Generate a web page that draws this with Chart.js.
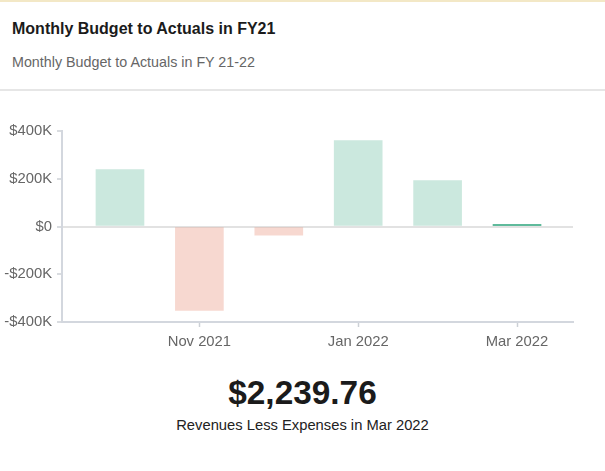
<!DOCTYPE html>
<html>
<head>
<meta charset="utf-8">
<script src="https://cdn.jsdelivr.net/npm/chart.js@4"></script>
<style>
  html, body { margin: 0; padding: 0; background: #fff; }
  body { width: 605px; height: 471px; position: relative; overflow: hidden;
         font-family: "Liberation Sans", Arial, sans-serif; }
  .topline { position: absolute; left: 0; top: 0; width: 605px; height: 2px; background: #f3e8c6; }
  .head { position: absolute; left: 0; top: 2px; width: 605px; height: 87px; border-bottom: 2px solid #e6e6e6; }
  .title { position: absolute; left: 12px; top: 18px; font-size: 16px; font-weight: bold; color: #1b1b1b; }
  .sub { position: absolute; left: 12px; top: 52px; font-size: 14.3px; color: #666; }
  .wrap { position: absolute; left: -10px; top: 110px; width: 615px; height: 250px; }
  .big { position: absolute; left: 0; width: 605px; top: 374px; text-align: center;
         font-size: 33.4px; font-weight: bold; color: #1b1b1b; }
  .cap { position: absolute; left: 0; width: 605px; top: 417px; text-align: center;
         font-size: 14.75px; color: #222; }
</style>
</head>
<body>
<div class="topline"></div>
<div class="head">
  <div class="title">Monthly Budget to Actuals in FY21</div>
  <div class="sub">Monthly Budget to Actuals in FY 21-22</div>
</div>
<div class="wrap"><canvas id="c" width="615" height="250"></canvas></div>
<div class="big" id="big"></div>
<div class="cap" id="cap"></div>
<script>
const months = ['Oct 2021', 'Nov 2021', 'Dec 2021', 'Jan 2022', 'Feb 2022', 'Mar 2022'];
const net = [238000, -352000, -36000, 360000, 192000, 2239.76];
const shownTicks = [1, 3, 5];
const yTicks = [-400000, -200000, 0, 200000, 400000];

const el = (id) => document.getElementById(id);

const last = net.length - 1;
el('big').innerText = '$' + net[last].toLocaleString('en-US', { minimumFractionDigits: 2, maximumFractionDigits: 2 });
el('cap').innerText = 'Revenues Less Expenses in ' + months[last];

function money(v) {
    if (v === 0) return '$0';
    const s = '$' + Math.abs(v / 1000) + 'K';
    return v < 0 ? '-' + s : s;
}

function barColor(i) {
    if (i === last) return '#2aa37a';
    return net[i] >= 0 ? 'rgba(46,163,124,0.25)' : 'rgba(228,125,98,0.3)';
}

Chart.defaults.font.family = '"Liberation Sans", Arial, sans-serif';
Chart.defaults.font.size = 14.8;
Chart.defaults.color = '#666';

new Chart(el('c').getContext('2d'), {
    type: 'bar',
    data: {
        datasets: [{
            data: net.map((v, i) => ({ x: i, y: v })),
            backgroundColor: net.map((v, i) => barColor(i)),
            barThickness: 48,
            minBarLength: 2
        }]
    },
    options: {
        animation: false,
        responsive: false,
        layout: { padding: { top: 21, right: 32, bottom: 0, left: 0 } },
        plugins: { legend: { display: false }, tooltip: { enabled: false } },
        scales: {
            x: {
                type: 'linear',
                offset: false,
                min: -0.73,
                max: 5.705,
                afterBuildTicks: (s) => { s.ticks = shownTicks.map(v => ({ value: v })); },
                afterFit: (s) => { s.height = 38; },
                ticks: {
                    callback: (v) => months[v],
                    padding: 6,
                    maxRotation: 0,
                    autoSkip: false
                },
                grid: { offset: false, drawOnChartArea: false, tickLength: 5, tickColor: '#ccd0d6', tickWidth: 1.5 },
                border: { color: '#d3d7de', width: 2 }
            },
            y: {
                min: -400000,
                max: 400000,
                afterBuildTicks: (s) => { s.ticks = yTicks.map(v => ({ value: v })); },
                afterFit: (s) => { s.width = 72; },
                ticks: { callback: (v) => money(v), padding: 5 },
                grid: {
                    color: (ctx) => (ctx.tick && ctx.tick.value === 0 ? '#e2e2e2' : 'rgba(0,0,0,0)'),
                    lineWidth: 2,
                    tickLength: 5,
                    tickColor: '#ccd0d6',
                    tickWidth: 1.5
                },
                border: { color: '#d3d7de', width: 2 }
            }
        }
    }
});
</script>
</body>
</html>
